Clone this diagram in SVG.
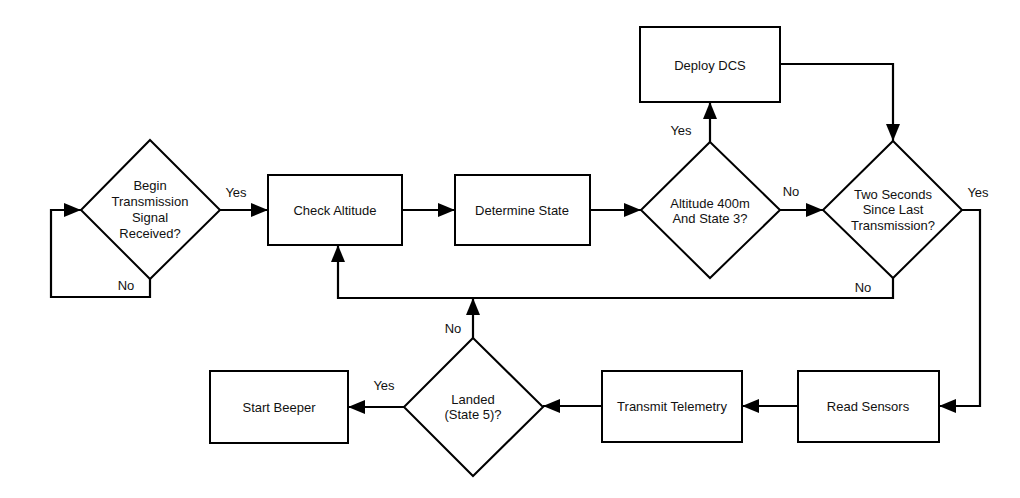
<svg xmlns="http://www.w3.org/2000/svg" width="1020" height="498" viewBox="0 0 1020 498">
<style>
.n{fill:#fff;stroke:#000;stroke-width:2}
.c{fill:none;stroke:#000;stroke-width:2.2}
text{font-family:"Liberation Sans",Arial,sans-serif;font-size:13px;fill:#111;text-anchor:middle}
</style>
<defs>
<marker id="ah" markerUnits="userSpaceOnUse" markerWidth="18" markerHeight="14" refX="17" refY="7" orient="auto">
<path d="M0,0 L17,7 L0,14 Z" fill="#000"/>
</marker>
</defs>
<rect width="1020" height="498" fill="#fff"/>
<g id="connectors">
<path class="c" d="M220,210 H268" marker-end="url(#ah)"/>
<path class="c" d="M150,278 V297 H51 V210 H81" marker-end="url(#ah)"/>
<path class="c" d="M402,210 H455" marker-end="url(#ah)"/>
<path class="c" d="M590,210 H641" marker-end="url(#ah)"/>
<path class="c" d="M710,142 V102" marker-end="url(#ah)"/>
<path class="c" d="M780,210 H823" marker-end="url(#ah)"/>
<path class="c" d="M780,64 H893 V141" marker-end="url(#ah)"/>
<path class="c" d="M893,278 V298 H338 V245" marker-end="url(#ah)"/>
<path class="c" d="M962,210 H980 V406 H939" marker-end="url(#ah)"/>
<path class="c" d="M798,406 H742" marker-end="url(#ah)"/>
<path class="c" d="M602,406 H543" marker-end="url(#ah)"/>
<path class="c" d="M473,338 V298" marker-end="url(#ah)"/>
<path class="c" d="M404,407 H348" marker-end="url(#ah)"/>
<text x="236" y="197">Yes</text>
<text x="126" y="290">No</text>
<text x="681" y="135">Yes</text>
<text x="791" y="196">No</text>
<text x="978" y="197">Yes</text>
<text x="863" y="292">No</text>
<text x="453" y="333">No</text>
<text x="384" y="390">Yes</text>
</g>
<g id="begin">
<polygon class="n" points="150,140 220,210 150,279 81,210"/>
<text x="150" y="190">Begin</text>
<text x="150" y="206">Transmission</text>
<text x="150" y="222">Signal</text>
<text x="150" y="238">Received?</text>
</g>
<g id="check">
<rect class="n" x="268" y="175" width="134" height="70"/>
<text x="335" y="215">Check Altitude</text>
</g>
<g id="determine">
<rect class="n" x="455" y="175" width="135" height="70"/>
<text x="522" y="215">Determine State</text>
</g>
<g id="alt">
<polygon class="n" points="710,142 780,210 710,278 641,210"/>
<text x="710" y="208">Altitude 400m</text>
<text x="710" y="223">And State 3?</text>
</g>
<g id="deploy">
<rect class="n" x="640" y="27" width="140" height="75"/>
<text x="710" y="70">Deploy DCS</text>
</g>
<g id="two">
<polygon class="n" points="893,141 962,210 893,278 823,210"/>
<text x="893" y="199">Two Seconds</text>
<text x="893" y="214">Since Last</text>
<text x="893" y="230">Transmission?</text>
</g>
<g id="read">
<rect class="n" x="798" y="371" width="141" height="71"/>
<text x="868" y="411">Read Sensors</text>
</g>
<g id="transmit">
<rect class="n" x="602" y="371" width="140" height="71"/>
<text x="672" y="411">Transmit Telemetry</text>
</g>
<g id="landed">
<polygon class="n" points="473,338 543,407 473,476 404,407"/>
<text x="473" y="404">Landed</text>
<text x="473" y="419">(State 5)?</text>
</g>
<g id="beeper">
<rect class="n" x="210" y="371" width="138" height="72"/>
<text x="279" y="412">Start Beeper</text>
</g>
</svg>
